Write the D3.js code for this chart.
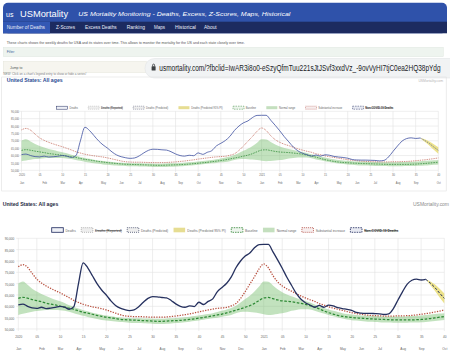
<!DOCTYPE html>
<html>
<head>
<meta charset="utf-8">
<script src="https://cdn.jsdelivr.net/npm/d3@7"></script>
<style>
  body { margin: 0; background: #fff; }
  svg { display: block; font-family: "Liberation Sans", Arial, sans-serif; }
</style>
</head>
<body>
<svg width="450" height="360"></svg>
<script>
// week ticks on the x axis (index of the week counted from 2020 W01)
const weekTickIdx = [0, 4, 9, 14, 19, 24, 29, 34, 39, 44, 49, 53, 57, 62, 67, 72, 77, 82, 87, 92];
const weekTickText = ["2020", "05", "10", "15", "20", "25", "30", "35", "40", "45", "50",
  "2021", "05", "10", "15", "20", "25", "30", "35", "40"];
const monthNames = ["Jan", "Feb", "Mar", "Apr", "May", "Jun", "Jul", "Aug", "Sep", "Oct", "Nov", "Dec"];
const yTicks = [50000, 55000, 60000, 65000, 70000, 75000, 80000, 85000, 90000];

// weekly deaths, 2020 W01 .. 2021 W36
const deaths = [60600, 61000, 60000, 59300, 59100, 59600, 59000, 59200, 59500, 60000,
  59600, 58700, 59900, 70000, 79200, 77000, 73500, 70000, 67200, 65000,
  62400, 60400, 59200, 58500, 58100, 58400, 59800, 61800, 63500, 64300,
  64200, 63900, 63700, 62600, 61100, 60000, 59600, 60200, 59900, 61800,
  60800, 62200, 63300, 66500, 68300, 70200, 73000, 77000, 80000, 82200,
  83500, 85800, 87200, 87300, 87300, 84000, 80500, 76800, 72800, 69300,
  65800, 63200, 61600, 60600, 59600, 60400, 59600, 60500, 60200, 59400,
  59000, 58700, 58200, 57300, 57000, 56900, 56900, 56800, 56700, 56400,
  56700, 59000, 62800, 66500, 69800, 71500, 72000, 71600, 71900];

// predicted deaths for the last (incomplete) weeks
const predictedWeek = [88, 89, 90, 91, 92];
const predicted = [71900, 70200, 68200, 65800, 63500];
const predLower = [71900, 69300, 66800, 63900, 61300];
const predUpper = [71900, 71000, 69600, 67700, 65700];

const baseline = [63500, 64000, 63600, 63000, 62500, 62000, 61400, 61000, 60600, 60100,
  59600, 59200, 58700, 58000, 57400, 57000, 56500, 56000, 55600, 55200,
  54900, 54600, 54300, 54100, 54000, 53900, 53800, 53700, 53600, 53500,
  53400, 53400, 53500, 53600, 53700, 53800, 54000, 54200, 54500, 54800,
  55100, 55400, 55800, 56200, 56600, 57100, 57700, 58300, 58900, 59600,
  60300, 61300, 62600, 63700, 63900, 63400, 62800, 62400, 62200, 62000,
  61700, 61300, 60900, 60300, 59700, 58900, 58000, 57200, 56600, 56000,
  55600, 55300, 55100, 54900, 54800, 54600, 54500, 54400, 54300, 54200,
  54100, 54000, 54000, 54000, 54000, 54000, 54100, 54200, 54400, 54600,
  54900, 55200, 55500];

const normalUpper = [70100, 71000, 69500, 67800, 66500, 65400, 64500, 63700, 62900, 62200,
  61500, 60500, 59800, 59000, 58300, 57800, 57200, 56700, 56300, 55900,
  55600, 55300, 55100, 54900, 54800, 54700, 54700, 54600, 54600, 54500,
  54500, 54500, 54600, 54700, 54800, 55000, 55200, 55400, 55700, 56000,
  56300, 56600, 57000, 57500, 58000, 58600, 59300, 60300, 61700, 63200,
  64700, 66500, 68700, 71000, 70800, 69200, 67500, 66200, 65200, 64400,
  63700, 63000, 62400, 61700, 60800, 60000, 59300, 58600, 58000, 57500,
  57000, 56600, 56400, 56200, 56000, 55900, 55800, 55700, 55600, 55500,
  55500, 55500, 55500, 55500, 55600, 55700, 55800, 56000, 56200, 56400,
  56600, 56800, 57000];

const normalLower = [56200, 56700, 57200, 57600, 57900, 58200, 58400, 58400, 58400, 58300,
  58000, 57600, 57000, 56400, 55800, 55300, 54800, 54400, 54000, 53700,
  53500, 53300, 53100, 53000, 52800, 52700, 52600, 52500, 52400, 52300,
  52200, 52200, 52300, 52400, 52600, 52800, 53000, 53200, 53500, 53800,
  54100, 54400, 54700, 55000, 55400, 55700, 56200, 56900, 57500, 57600,
  57500, 57300, 57000, 56500, 56200, 56300, 56600, 56900, 57400, 58000,
  58400, 58700, 58700, 58600, 58100, 57400, 56800, 56200, 55600, 55100,
  54600, 54200, 53900, 53700, 53500, 53300, 53200, 53100, 53000, 52900,
  52900, 52800, 52800, 52800, 52800, 52900, 52900, 53000, 53100, 53300,
  53500, 53800, 54000];

const substantial = [77400, 78400, 77200, 74500, 72000, 70300, 69000, 67900, 66900, 66000,
  64900, 63800, 62600, 61700, 60900, 60300, 59800, 59400, 59000, 58400,
  57700, 57000, 56300, 55800, 55600, 55500, 55500, 55400, 55300, 55200,
  55200, 55200, 55300, 55500, 55700, 56000, 56300, 56700, 57100, 57600,
  58000, 58400, 58800, 59100, 59300, 59500, 60200, 61200, 63500, 66500,
  69800, 73000, 76500, 78700, 77000, 73500, 70800, 69000, 67700, 66700,
  65600, 64600, 63700, 62900, 62200, 61200, 60600, 59800, 59200, 58700,
  58200, 57700, 57200, 56800, 56500, 56200, 56000, 55900, 55800, 55700,
  55700, 55700, 55800, 55800, 55900, 56000, 56200, 56500, 56800, 57100,
  57500, 57900, 58400];

const legendLabels = ["Deaths", "Deaths (Reported)", "Deaths (Predicted)", "Deaths (Predicted 95% PI)",
  "Baseline", "Normal range", "Substantial increase", "Non-COVID-19 Deaths"];
const legendHidden = [false, true, false, false, false, false, false, true];

const navItems = ["Number of Deaths", "Z-Scores", "Excess Deaths", "Ranking", "Maps", "Historical", "About"];

const nWeeks = baseline.length;
const svg = d3.select("svg");

// month label sits on the first week whose thursday falls in that month
const firstThursday = new Date(2020, 0, 2);
const monthTicks = [];
d3.range(nWeeks).forEach(i => {
  const d = d3.timeDay.offset(firstThursday, 7 * i);
  const prev = i ? d3.timeDay.offset(firstThursday, 7 * (i - 1)) : null;
  if (!prev || prev.getMonth() !== d.getMonth()) monthTicks.push({ i, label: monthNames[d.getMonth()] });
});

// chart text is in a narrow face; squeeze it horizontally
function squeeze(sel, k) {
  sel.each(function () {
    const l = this.getComputedTextLength();
    this.setAttribute("textLength", l * k);
    this.setAttribute("lengthAdjust", "spacingAndGlyphs");
  });
}

const legendStyles = [
  { fill: "#eef0f6", stroke: "#2b3567", dash: null },
  { fill: "#eeeeee", stroke: "#aaaaaa", dash: "1,1" },
  { fill: "#eeeeee", stroke: "#555b77", dash: "1,1" },
  { fill: "#e6dd92", stroke: "none", dash: null },
  { fill: "#eef5ee", stroke: "#3d8c40", dash: "1.5,1" },
  { fill: "#c4dfbe", stroke: "none", dash: null },
  { fill: "#f7eeee", stroke: "#b5534a", dash: "1,1" },
  { fill: "#e8eaf2", stroke: "#2b3567", dash: "1.5,1" }
];

function drawChart(cfg) {
  const g = svg.append("g");
  const x = d3.scaleLinear().domain([0, nWeeks - 1]).range([cfg.x0, cfg.x1]);
  const y = d3.scaleLinear().domain([50000, 90000]).range([cfg.yBottom, cfg.yTop]);

  // grid
  g.append("g").selectAll("line").data(yTicks).join("line")
    .attr("x1", cfg.x0 - 2).attr("x2", cfg.x1)
    .attr("y1", d => y(d)).attr("y2", d => y(d))
    .attr("stroke", "#e2e2e2").attr("stroke-width", 0.6);
  g.append("g").selectAll("line").data(weekTickIdx).join("line")
    .attr("x1", d => x(d)).attr("x2", d => x(d))
    .attr("y1", cfg.yTop).attr("y2", cfg.yBottom + 2)
    .attr("stroke", "#e2e2e2").attr("stroke-width", 0.6);

  // axes (labels only)
  const yAxis = g.append("g").attr("transform", `translate(${cfg.x0},0)`)
    .call(d3.axisLeft(y).tickValues(yTicks).tickFormat(d3.format(",")).tickSize(0).tickPadding(cfg.yPad));
  const wAxis = g.append("g").attr("transform", `translate(0,${cfg.yBottom})`)
    .call(d3.axisBottom(x).tickValues(weekTickIdx).tickFormat((d, i) => weekTickText[i]).tickSize(0).tickPadding(cfg.weekPad));
  const mAxis = g.append("g").attr("transform", `translate(0,${cfg.yBottom})`)
    .call(d3.axisBottom(x).tickValues(monthTicks.map(d => d.i)).tickFormat((d, i) => monthTicks[i].label).tickSize(0).tickPadding(cfg.monthPad));
  [yAxis, wAxis, mAxis].forEach(a => {
    a.select(".domain").remove();
    a.attr("font-family", null).attr("font-size", null);
    a.selectAll("text").attr("font-size", cfg.font).attr("fill", "#666");
    squeeze(a.selectAll("text"), 0.72);
  });

  const curve = d3.curveMonotoneX;
  // normal range band
  g.append("path").datum(d3.range(nWeeks))
    .attr("fill", "rgba(110,185,100,0.42)")
    .attr("d", d3.area().curve(curve).x(i => x(i)).y0(i => y(normalLower[i])).y1(i => y(normalUpper[i])));
  // prediction interval
  g.append("path").datum(d3.range(predictedWeek.length))
    .attr("fill", "rgba(228,214,90,0.7)")
    .attr("d", d3.area().curve(curve).x(k => x(predictedWeek[k])).y0(k => y(predLower[k])).y1(k => y(predUpper[k])));

  const lineOf = (arr) => d3.line().curve(curve).x((d, i) => x(i)).y(d => y(d))(arr);
  g.append("path").attr("d", lineOf(baseline))
    .attr("fill", "none").attr("stroke", "#2f8a36").attr("stroke-width", cfg.lw)
    .attr("stroke-dasharray", cfg.dashBase);
  g.append("path").attr("d", lineOf(substantial))
    .attr("fill", "none").attr("stroke", "#b8503f").attr("stroke-width", cfg.lw)
    .attr("stroke-dasharray", cfg.dashSub);
  g.append("path").attr("d", lineOf(deaths))
    .attr("fill", "none").attr("stroke", cfg.deathColor).attr("stroke-width", cfg.lw * 1.05);
  g.append("path")
    .attr("d", d3.line().curve(curve).x((d, k) => x(predictedWeek[k])).y(d => y(d))(predicted))
    .attr("fill", "none").attr("stroke", cfg.deathColor).attr("stroke-width", cfg.lw * 0.8)
    .attr("stroke-dasharray", cfg.dashBase);

  // legend
  const lg = g.append("g");
  const items = legendLabels.map((lab, k) => {
    const it = lg.append("g");
    const st = legendStyles[k];
    it.append("rect").attr("y", -cfg.boxH / 2).attr("width", cfg.boxW).attr("height", cfg.boxH)
      .attr("fill", st.fill).attr("stroke", st.stroke).attr("stroke-width", cfg.lw * 0.7)
      .attr("stroke-dasharray", st.dash);
    const t = it.append("text").attr("x", cfg.boxW + cfg.boxGap).attr("dy", "0.35em")
      .attr("font-size", cfg.font).attr("fill", legendHidden[k] ? "#333" : "#666")
      .attr("text-decoration", legendHidden[k] ? "line-through" : null)
      .attr("font-weight", k === 7 ? "bold" : null)
      .text(lab);
    const w = t.node().getComputedTextLength() * 0.74;
    squeeze(t, 0.74);
    return { it, w: cfg.boxW + cfg.boxGap + w };
  });
  const used = d3.sum(items, d => d.w);
  const spacing = (cfg.legendW - used) / (items.length - 1);
  let cx = 0;
  items.forEach(d => { d.it.attr("transform", `translate(${cx},0)`); cx += d.w + spacing; });
  lg.attr("transform", `translate(${225 - cfg.legendW / 2},${cfg.legendY})`);
}

// ---------- top part: website screenshot ----------
svg.append("rect").attr("x", 3).attr("y", 2.7).attr("width", 444).attr("height", 30.6)
  .attr("rx", 5).attr("fill", "#2f52aa");
svg.append("rect").attr("x", 3).attr("y", 21.7).attr("width", 444).attr("height", 11.6).attr("fill", "#1c2b60");
svg.append("rect").attr("x", 3).attr("y", 21.7).attr("width", 47).attr("height", 11.6).attr("fill", "#3358b4");
svg.append("text").attr("x", 6).attr("y", 16.5).attr("font-size", 7).attr("fill", "#fff").text("us");
svg.append("text").attr("x", 20).attr("y", 16.5).attr("font-size", 9.3).attr("fill", "#fff").text("USMortality");
svg.append("text").attr("x", 78.3).attr("y", 15.8).attr("font-size", 6.2).attr("font-style", "italic")
  .attr("fill", "#fff").attr("textLength", 212).attr("lengthAdjust", "spacingAndGlyphs")
  .text("US Mortality Monitoring - Deaths, Excess, Z-Scores, Maps, Historical");
const navX = [6.7, 56, 85, 126.7, 154, 175, 204];
const navW = [38.3, 19, 31.7, 18.3, 11, 21, 12.7];
svg.append("g").selectAll("text").data(navItems).join("text")
  .attr("x", (d, i) => navX[i]).attr("y", 29.3).attr("font-size", 4.6).attr("fill", "#e8ecf8")
  .attr("textLength", (d, i) => navW[i]).attr("lengthAdjust", "spacingAndGlyphs").text(d => d);

svg.append("text").attr("x", 6.7).attr("y", 43.6).attr("font-size", 3.6).attr("fill", "#555")
  .attr("textLength", 238).attr("lengthAdjust", "spacingAndGlyphs")
  .text("These charts shows the weekly deaths for USA and its states over time. This allows to monitor the mortality for the US and each state closely over time.");
svg.append("rect").attr("x", 3.3).attr("y", 47.3).attr("width", 440).attr("height", 9.4)
  .attr("fill", "#eef4ef").attr("stroke", "#dfe8e0").attr("stroke-width", 0.5);
svg.append("text").attr("x", 6.7).attr("y", 53.2).attr("font-size", 3.5).attr("fill", "#3a64a0").text("Filter");
svg.append("rect").attr("x", 3.3).attr("y", 61.5).attr("width", 143).attr("height", 11)
  .attr("fill", "#f6f5ef").attr("stroke", "#e4e3da").attr("stroke-width", 0.5);
svg.append("text").attr("x", 10).attr("y", 68.6).attr("font-size", 3.5).attr("fill", "#555").text("Jump to");
svg.append("text").attr("x", 3.3).attr("y", 75.3).attr("font-size", 2.6).attr("fill", "#777")
  .attr("textLength", 83).attr("lengthAdjust", "spacingAndGlyphs")
  .text("NEW: Click on a chart's legend entry to show or hide a series!");

// url bar overlay
svg.append("rect").attr("x", 145).attr("y", 58.5).attr("width", 320).attr("height", 19.5).attr("rx", 9.5)
  .attr("fill", "#f1f3f4").attr("stroke", "#e2e4e6").attr("stroke-width", 0.6);
svg.append("rect").attr("x", 151.6).attr("y", 66.3).attr("width", 4).attr("height", 4.2).attr("rx", 0.5).attr("fill", "#3c4043");
svg.append("path").attr("d", "M152.6,66.4 v-1.3 a1.0,1.0 0 0 1 2.0,0 v1.3")
  .attr("fill", "none").attr("stroke", "#3c4043").attr("stroke-width", 0.8);
const url = svg.append("text").attr("font-size", 9).attr("fill", "#202124")
  .text("usmortality.com/?fbclid=IwAR3i8o0-eSzyQfmTuu221sJtJSvf3xxdVz_-9ovVyHI7tjC0ea2HQ38pYdg");
const urlScale = 282 / url.node().getComputedTextLength();
url.attr("transform", `translate(159.3,70.6) scale(${urlScale},1)`);

// top chart card
svg.append("rect").attr("x", 1.7).attr("y", 77).attr("width", 444.5).attr("height", 114)
  .attr("fill", "none").attr("stroke", "#e0e0e0").attr("stroke-width", 0.6);
svg.append("text").attr("x", 6.7).attr("y", 82.3).attr("font-size", 4.8).attr("font-weight", "bold")
  .attr("fill", "#2c4c94").attr("textLength", 56).attr("lengthAdjust", "spacingAndGlyphs").text("United States: All ages");
svg.append("text").attr("x", 443).attr("y", 82.3).attr("font-size", 3.4).attr("text-anchor", "end")
  .attr("fill", "#b5b5b5").text("USMortality.com");

drawChart({
  x0: 21.5, x1: 438.3, yTop: 111.3, yBottom: 170.3,
  yPad: 2.5, weekPad: 3.6, monthPad: 11.6, font: 3.6, lw: 0.75,
  deathColor: "#3b4c9e", dashBase: "1.6,1", dashSub: "0.9,0.9",
  legendY: 107.7, legendW: 336.6, boxW: 11, boxH: 3, boxGap: 1.8
});

// ---------- bottom part: enlarged chart ----------
svg.append("text").attr("x", 2.7).attr("y", 206.3).attr("font-size", 5.8).attr("font-weight", "bold")
  .attr("fill", "#1f2a44").attr("textLength", 55.6).attr("lengthAdjust", "spacingAndGlyphs").text("United States: All ages");
svg.append("text").attr("x", 449).attr("y", 206.3).attr("font-size", 4.8).attr("text-anchor", "end")
  .attr("fill", "#8a8a8a").attr("textLength", 36).attr("lengthAdjust", "spacingAndGlyphs").text("USMortality.com");

drawChart({
  x0: 18.3, x1: 444.3, yTop: 238.3, yBottom: 329,
  yPad: 4, weekPad: 6.1, monthPad: 18.3, font: 4.4, lw: 1.25,
  deathColor: "#26315f", dashBase: "2.6,1.6", dashSub: "1.3,1.3",
  legendY: 230, legendW: 346.6, boxW: 11.6, boxH: 4.6, boxGap: 2.2
});
</script>
</body>
</html>
